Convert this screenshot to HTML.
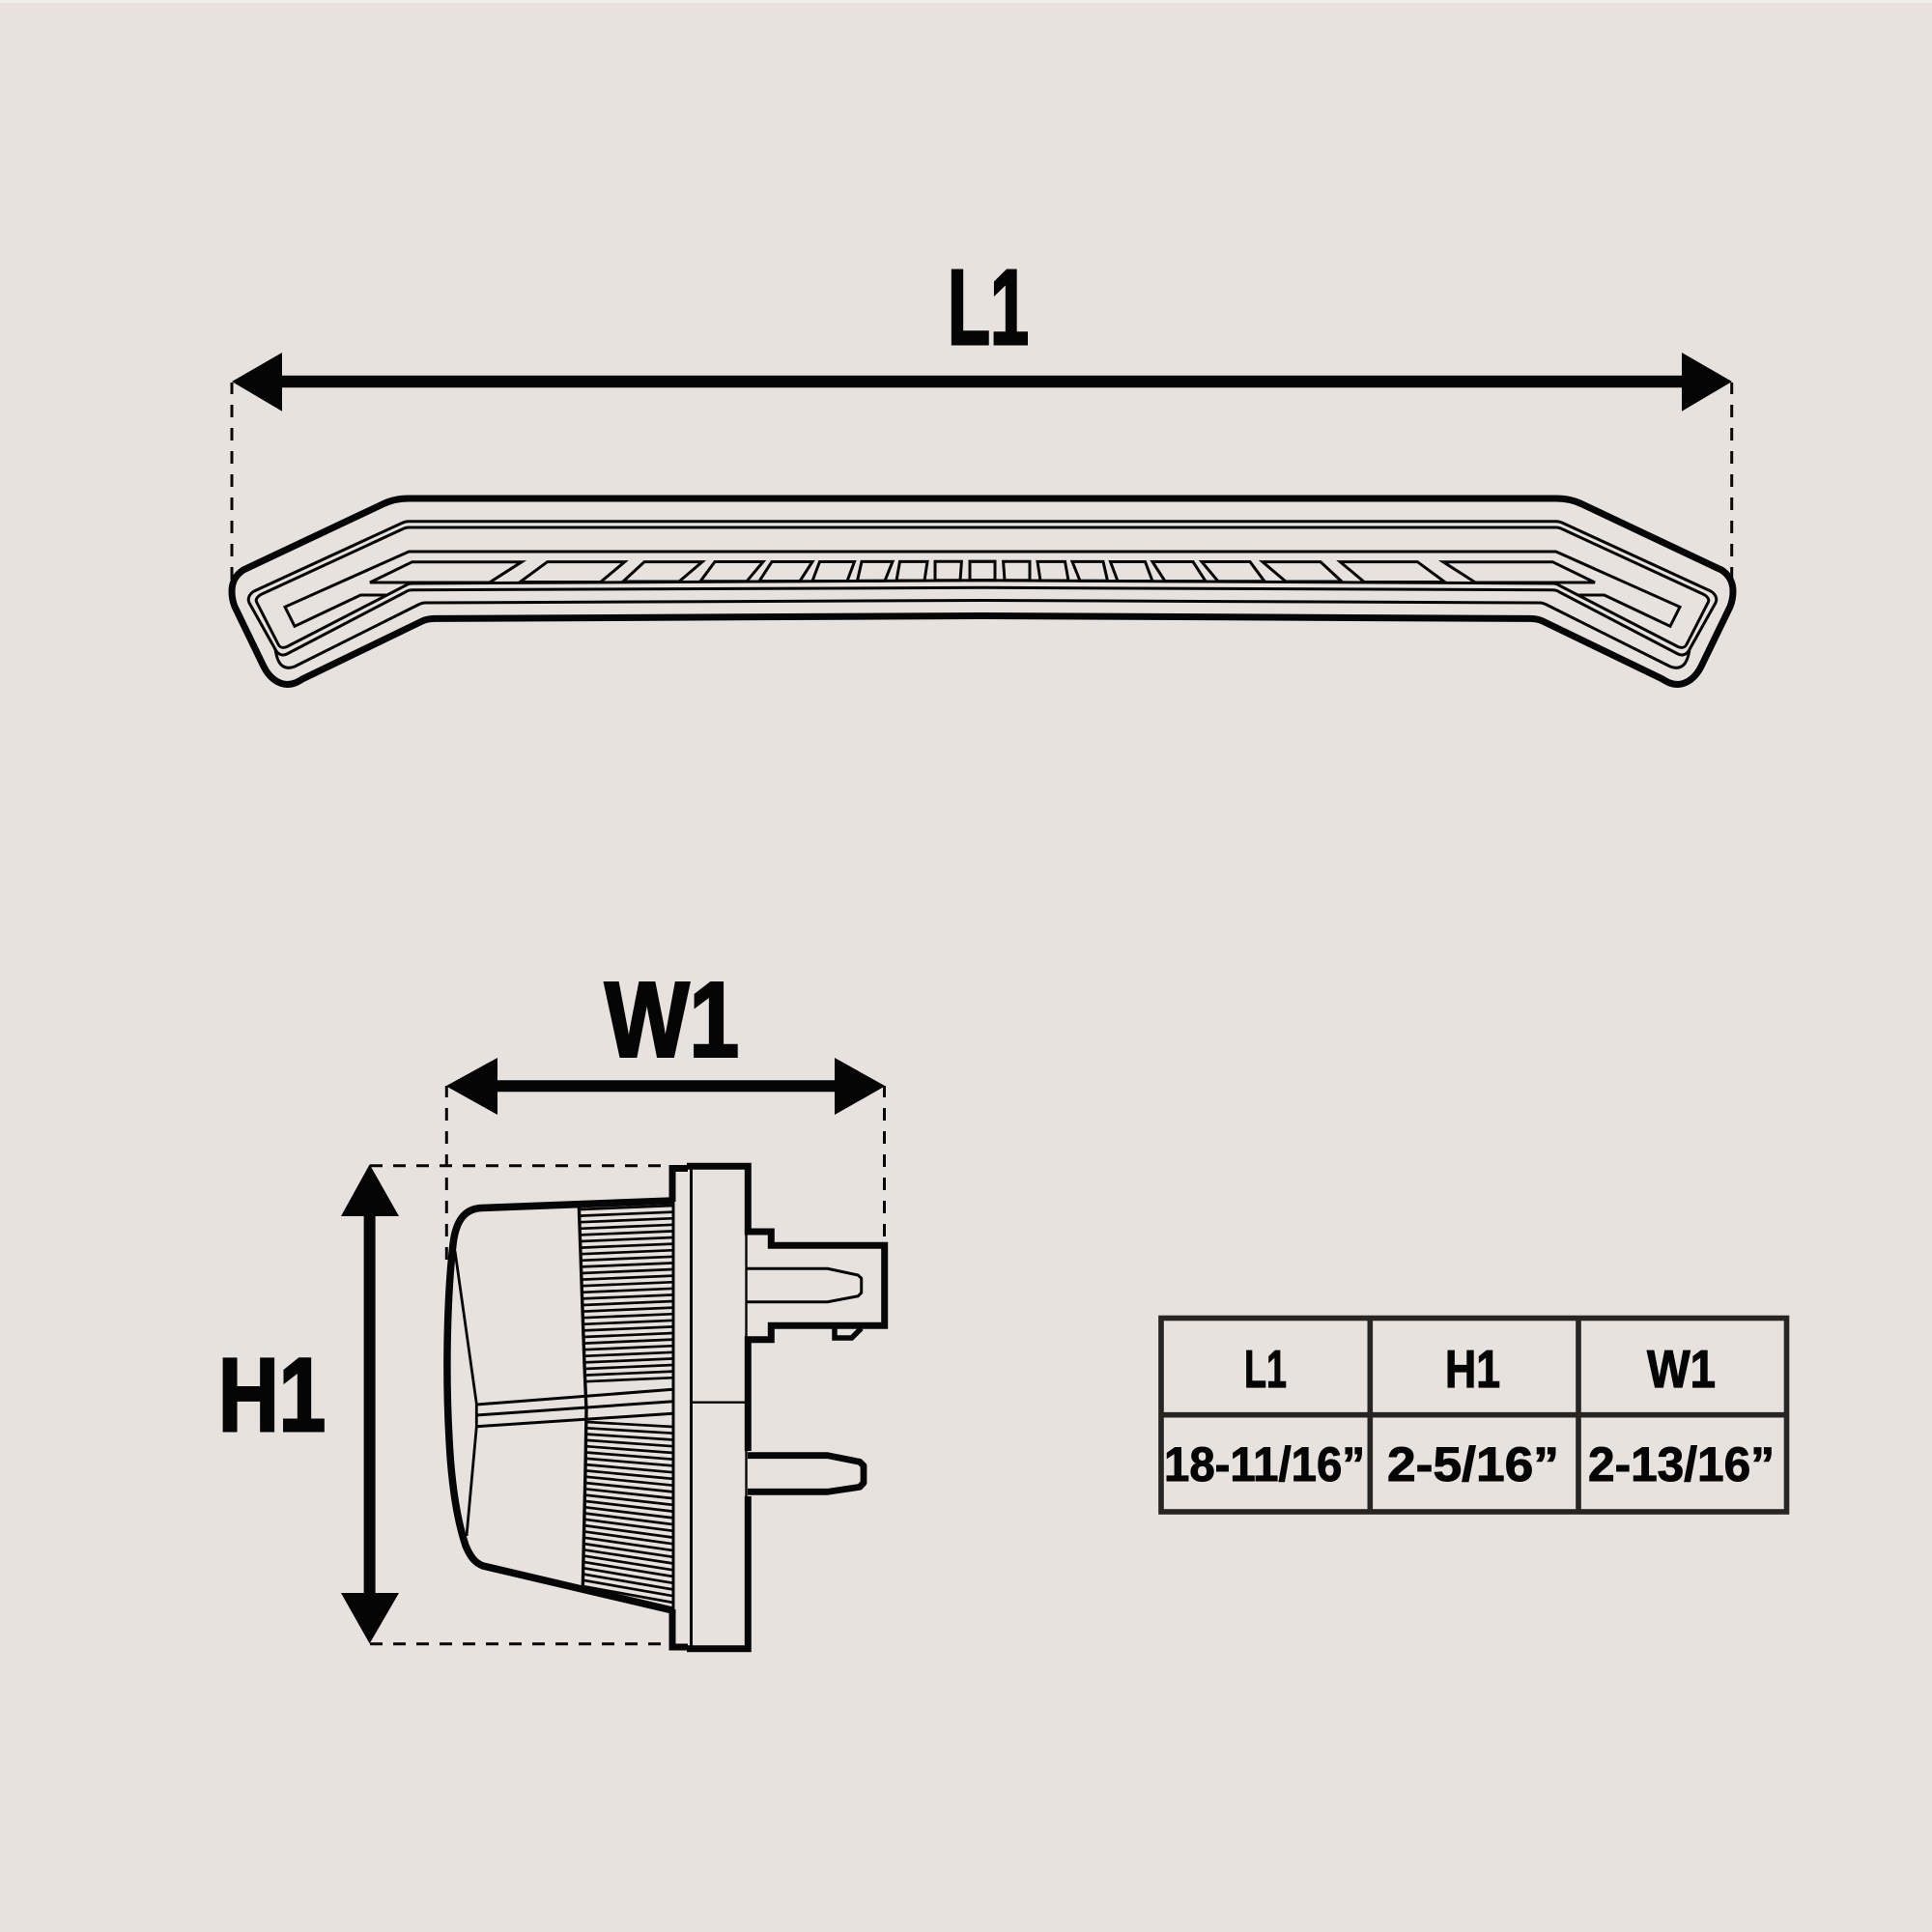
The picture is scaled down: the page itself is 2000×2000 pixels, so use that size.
<!DOCTYPE html>
<html><head><meta charset="utf-8"><style>
html,body{margin:0;padding:0;background:#e8e2de}
svg{display:block}
text{font-family:"Liberation Sans",sans-serif;font-weight:700;fill:#050505}
</style></head><body>
<svg width="2000" height="2000" viewBox="0 0 2000 2000" xmlns="http://www.w3.org/2000/svg">
<rect width="2000" height="2000" fill="#e8e2de"/>
<rect width="2000" height="3" fill="#f0efec"/>
<rect y="3" width="2000" height="7" fill="#eae0de"/>
<defs>
<g id="half" fill="none" stroke="#060606" stroke-linejoin="miter">
<path stroke-width="7" d="M1017 516H423C412 516 404 518 396 522L252 590C244 595 240 603 240 612C240 618 241 623 243 628L273 690C279 702 288 708 297 708.5C304 708.5 308 706 313 703L437 643C441 641 445 640.5 450 640.4L1017 637.5"/>
<path stroke-width="3" d="M1017 539.7H423C420 539.7 418 540.5 416 541.5L263 612C258 615 256 620 258 624L286 674C289 678 293 679 297 677L420 612.7C422 611 424 610.7 427 610.7L1017 608.3"/>
<path stroke-width="3" d="M1017 546H423C420 546 418 547 416 548L270 615.5C266 618 264 621 266 624L288 667C290 671 293 671 297 669.5L420 606C422 604.5 424 604 427 604L1017 600.8"/>
<path stroke-width="3" d="M1017 621.5L440 624C437 624 435 625 433 626L305 690C300 692 296 692 292 689C288 686 286 679 285 672"/>
<path stroke-width="3" d="M1017 571H423.3L295 628.3L305 648.3L373.3 616H400"/>
<path stroke-width="3" d="M426.7 581.7H540L506.7 603H383Z"/>
<path stroke-width="3" d="M566.7 581.6H646.7L621.7 602.5H538.3Z"/>
<path stroke-width="3" d="M667 581.6H727L703 602H645Z"/>
<path stroke-width="3" d="M740 581.5H790L773 601.8H725Z"/>
<path stroke-width="3" d="M799 581.5H841L828 601.6H786Z"/>
<path stroke-width="3" d="M848.5 581.5H884.5L877 601.5H841Z"/>
<path stroke-width="3" d="M892 581.4H924L916 601.3H887.5Z"/>
<path stroke-width="3" d="M931.5 581.4H960L957 601H928Z"/>
<path stroke-width="3" d="M968 581.3H995.4L994 600.8H968Z"/>
<path stroke-width="3" d="M1004 581.3H1030V600.6H1004Z"/>
</g>
</defs>
<use href="#half"/>
<use href="#half" transform="matrix(-1 0 0 1 2034 0)"/>

<!-- dimension guides -->
<g fill="none" stroke="#080808" stroke-width="3" stroke-dasharray="13 11">
<path d="M240 396V600" stroke-dashoffset="1"/>
<path d="M1792.7 396V600" stroke-dashoffset="1"/>
<path d="M462.3 1124V1305" stroke-dashoffset="1"/>
<path d="M915.5 1124V1284" stroke-dashoffset="1"/>
<path d="M383 1206.7H690"/>
<path d="M383 1701.7H686"/>
</g>
<g fill="#050505">
<path d="M240 395L292 365V388.7H1741V365L1793 395L1741 425.7V401.3H292V425.7Z"/>
<path d="M461.7 1124.3L515 1095V1118.3H864V1095L916.4 1124.3L864 1154V1130.3H515V1154Z"/>
<path d="M382.6 1205.4L413 1259H388.6V1649H413L382.6 1701.5L353 1649H376.6V1259H353Z"/>
</g>

<!-- side view -->
<g fill="none" stroke="#060606">
<path stroke-width="7.5" d="M696 1243L498 1250.5C482 1251.5 472 1262 469 1288C463 1340 461 1420 465 1490C467 1530 472 1570 482 1600C487 1612 492 1618 500 1621L696 1667"/>
<path stroke-width="2.8" d="M471 1295L493.3 1453V1477L483 1590"/>
<path stroke-width="3" d="M493.3 1454L696.7 1438.3M493.3 1465L696.7 1450.7M493.3 1476.7L696.7 1463.3"/>
<path stroke-width="3.4" d="M599.3 1248L605 1413L607 1460L606 1520L603.3 1643"/>
<path stroke-width="2.7" d="M600 1252l97-4M600.2 1258.6l97-4M600.4 1265.2l97-4M600.6 1271.8l97-4M600.8 1278.4l97-4M601 1285l96-4M601.2 1291.6l96-4M601.4 1298.2l96-4M601.6 1304.8l96-4M601.8 1311.4l96-4M602 1318l95-4M602.2 1324.6l95-4M602.4 1331.2l95-4M602.6 1337.8l95-4M602.8 1344.4l95-4M603 1351l94-4M603.2 1357.6l94-4M603.4 1364.2l94-4M603.6 1370.8l94-4M603.8 1377.4l94-4M604 1384l93-4M604.2 1390.6l93-4M604.4 1397.2l93-4M604.6 1403.8l93-4M604.8 1410.4l93-4M605 1417l92-4M605.2 1423.6l92-4M605.4 1430.2l92-4"/>
<path stroke-width="2.7" d="M607 1472l90 5M607 1478.3l90 5.4M607 1484.6l90 5.9M607 1490.9l90 6.3M606.5 1497.2l90.5 6.8M606.5 1503.5l90.5 7.2M606.5 1509.8l90.5 7.6M606 1516.1l91 8.1M606 1522.4l91 8.5M606 1528.7l91 9M605.5 1535l91.5 9.4M605.5 1541.3l91.5 9.8M605.5 1547.6l91.5 10.3M605 1553.9l92 10.7M605 1560.2l92 11.2M605 1566.5l92 11.6M605 1572.8l92 12M604.5 1579.1l92.5 12.5M604.5 1585.4l92.5 12.9M604.5 1591.7l92.5 13.4M604 1598l93 13.8M604 1604.3l93 14.2M604 1610.6l93 14.7M604 1616.9l93 15.1M603.5 1623.2l93.5 15.6M603.5 1629.5l93.5 16M603.5 1635.8l93.5 16.4M603.5 1642.1l93.5 16.9"/>
<!-- flange -->
<path stroke-width="7" d="M696 1244V1209.5H712M696 1666V1705H712"/>
<path stroke-width="3" d="M697 1243V1668"/>
<path stroke-width="3" d="M715.5 1209V1705"/>
<path stroke-width="7" d="M711 1207.3H774.3V1275H798.3V1289.3H915.7V1372.3H798.3V1386.7H774.3V1502M774.3 1549V1706.7H711"/>
<path stroke-width="2.4" d="M772.5 1275V1387M772.5 1500V1550"/>
<path stroke-width="2.4" d="M717 1451.7H772"/>
<path stroke-width="3" d="M773 1313.3H856.7L888.3 1320L891.7 1323.3V1338.3L888.3 1341.7L856.7 1347.7H773"/>
<path stroke-width="5.5" d="M864 1372V1385H881.7L891.7 1375"/>
<path stroke-width="6.8" stroke-linejoin="round" d="M774 1506.7H856.7L890 1513.3L894 1517.3V1535L890 1539.3L856.7 1544.3H774"/>
</g>

<!-- big labels -->
<text x="981" y="356" font-size="110" textLength="84" lengthAdjust="spacingAndGlyphs" stroke="#050505" stroke-width="3">L1</text>
<text x="626" y="1093.5" font-size="110" textLength="139" lengthAdjust="spacingAndGlyphs" stroke="#050505" stroke-width="3">W1</text>
<text x="226" y="1481" font-size="108" textLength="111" lengthAdjust="spacingAndGlyphs" stroke="#050505" stroke-width="3">H1</text>

<!-- table -->
<g fill="none" stroke="#262524" stroke-width="5.6">
<rect x="1202" y="1364.5" width="647.5" height="200.5"/>
<path d="M1202 1464.7H1849.5M1418.3 1364.5V1565M1634 1364.5V1565"/>
</g>
<g font-size="55" stroke="#050505" stroke-width="1.2">
<text x="1288" y="1436" textLength="44" lengthAdjust="spacingAndGlyphs">L1</text>
<text x="1496" y="1436" textLength="57" lengthAdjust="spacingAndGlyphs">H1</text>
<text x="1705" y="1436" textLength="71" lengthAdjust="spacingAndGlyphs">W1</text>
</g>
<g font-size="50" stroke="#050505" stroke-width="1">
<text x="1205" y="1533" textLength="208" lengthAdjust="spacingAndGlyphs">18-11/16”</text>
<text x="1436" y="1533" textLength="178" lengthAdjust="spacingAndGlyphs">2-5/16”</text>
<text x="1644" y="1533" textLength="193" lengthAdjust="spacingAndGlyphs">2-13/16”</text>
</g>
</svg>
</body></html>
